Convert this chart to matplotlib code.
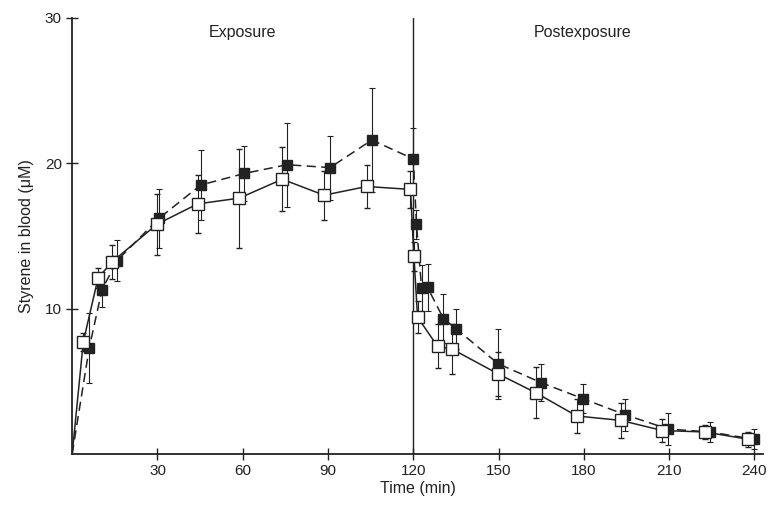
import matplotlib
matplotlib.use("Agg")
import matplotlib.pyplot as plt

# open squares, solid line
open_t = [0, 3.9, 9.1, 14, 29.8, 44.1, 58.8, 73.9, 88.6, 103.6, 119,
          120.2, 121.5, 128.5, 133.7, 149.8, 163.1, 177.5, 192.9, 207.6, 222.6, 237.7]
open_y = [0, 7.7, 12.1, 13.2, 15.8, 17.2, 17.6, 18.9, 17.8, 18.4, 18.2,
          13.6, 9.4, 7.4, 7.2, 5.5, 4.2, 2.6, 2.3, 1.6, 1.5, 1.0]
open_err = [0, 0.6, 0.7, 1.2, 2.1, 2.0, 3.4, 2.2, 1.7, 1.5, 1.3,
            1.0, 1.1, 1.5, 1.7, 1.5, 1.75, 1.2, 1.2, 0.8, 0.5, 0.5]

# filled squares, dashed line
filled_t = [0, 6, 10.5, 15.8, 30.5, 45.2, 60.6, 75.6, 90.7, 105.4, 120,
            121.1, 122.9, 125, 130.6, 135.1, 149.8, 164.9, 179.6, 194.3, 209.7, 224.4, 239.8]
filled_y = [0, 7.3, 11.3, 13.3, 16.2, 18.5, 19.3, 19.9, 19.7, 21.6, 20.3,
            15.8, 11.4, 11.45, 9.3, 8.6, 6.2, 4.9, 3.8, 2.7, 1.7, 1.5, 1.0]
filled_err = [0, 2.4, 1.2, 1.4, 2.0, 2.4, 1.9, 2.9, 2.2, 3.6, 2.1,
              1.0, 1.6, 1.6, 1.7, 1.4, 2.4, 1.3, 1.0, 1.1, 1.1, 0.7, 0.7]

x_ticks = [30, 60, 90, 120, 150, 180, 210, 240]
y_ticks = [10, 20, 30]

ink = "#222222"
plt.rcParams["font.family"] = ["Liberation Sans", "DejaVu Sans"]

fig = plt.figure(figsize=(7.68, 5.07), dpi=100)
ax = fig.add_axes([0.094, 0.105, 0.8995, 0.8595])

# connecting lines start at the origin, markers do not
ax.plot(filled_t, filled_y, ls=(0, (6, 3.5)), color=ink, lw=1.1, zorder=2)
ax.plot(open_t, open_y, ls="-", color=ink, lw=1.1, zorder=2)

ax.errorbar(filled_t[1:], filled_y[1:], yerr=filled_err[1:], fmt="s", ls="none",
            color=ink, mfc=ink, mec=ink, ms=6.5, elinewidth=0.8,
            capsize=2.5, capthick=0.8, zorder=3)
ax.errorbar(open_t[1:], open_y[1:], yerr=open_err[1:], fmt="s", ls="none",
            color=ink, mfc="white", mec=ink, ms=8, mew=1.0,
            elinewidth=0.8, capsize=2.5, capthick=0.8, zorder=4)

ax.axvline(120, color=ink, lw=1.0, zorder=2)

ax.text(60, 29.0, "Exposure", ha="center", va="center", fontsize=11.5, color=ink)
ax.text(179.6, 29.0, "Postexposure", ha="center", va="center", fontsize=11.5, color=ink)

ax.set_xlim(0, 243)
ax.set_ylim(0, 30)
ax.set_xticks(x_ticks)
ax.set_yticks(y_ticks)
ax.tick_params(direction="inout", length=8, width=1.0, colors=ink, labelsize=11)
ax.set_xlabel("Time (min)", fontsize=11.5, color=ink, labelpad=2)
ax.set_ylabel("Styrene in blood (μM)", fontsize=11.5, color=ink, labelpad=8)

for side in ["top", "right"]:
    ax.spines[side].set_visible(False)
for side in ["left", "bottom"]:
    ax.spines[side].set_linewidth(1.3)
    ax.spines[side].set_color(ink)

fig.savefig("out.png", dpi=100)
